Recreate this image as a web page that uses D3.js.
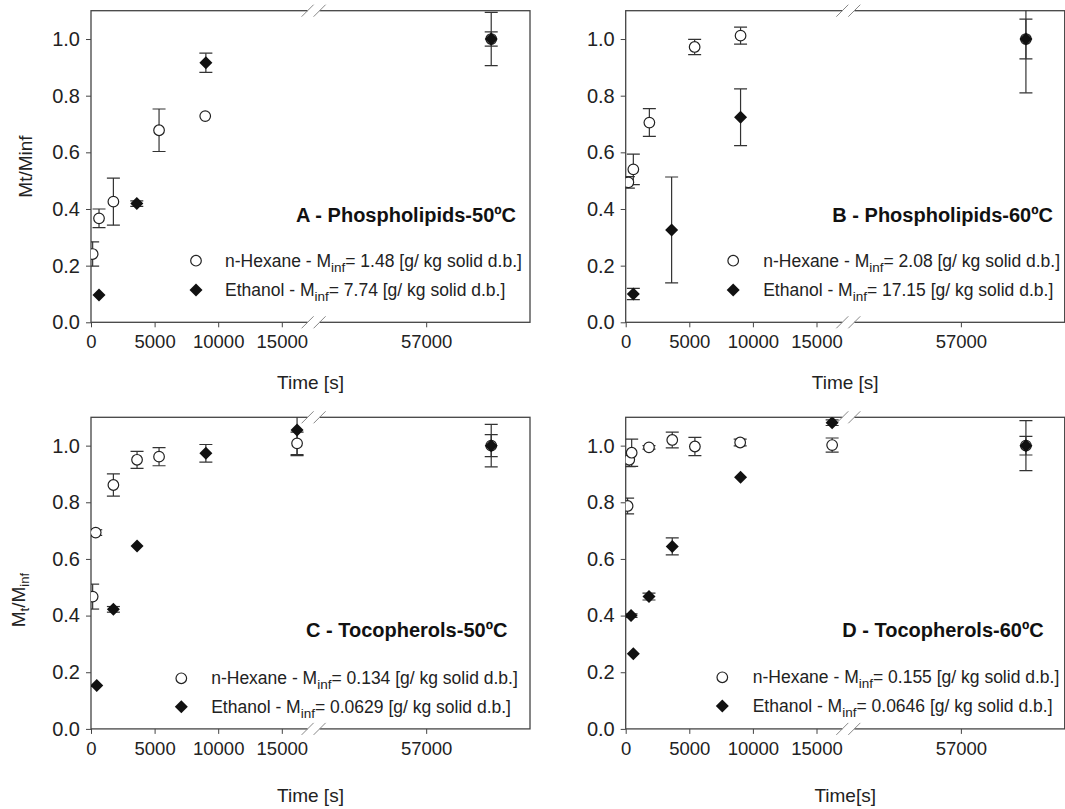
<!DOCTYPE html>
<html lang="en">
  <head>
    <meta charset="UTF-8" />
    <title>Extraction kinetics - Mt/Minf vs time</title>
    <script src="https://d3js.org/d3.v7.min.js"></script>
    <style>
      body {
        margin: 0;
        background: #fff;
        font-family: "Liberation Sans", Arial, sans-serif;
      }
      svg {
        display: block;
      }
      .tick text {
        fill: #222;
        font-family: "Liberation Sans", Arial, sans-serif;
      }
      .x-axis .tick text {
        font-size: 18.5px;
      }
      .y-axis .tick text {
        font-size: 20px;
      }
      .tick line {
        stroke: #444;
      }
      .axis-label {
        font-size: 19px;
        fill: #222;
      }
      .panel-title {
        font-size: 20px;
        font-weight: bold;
        fill: #111;
      }
      .legend-text {
        font-size: 17.5px;
        fill: #222;
      }
    </style>
  </head>
  <body>
    <svg width="1065" height="809"></svg>
    <script>
      // [time s, Mt/Minf, error]
      const hexaneA = [[130, 0.241, 0.043], [630, 0.367, 0.033], [1760, 0.426, 0.083], [5350, 0.678, 0.075], [8980, 0.728, 0], [62200, 1.0, 0.094]];
      const ethanolA = [[630, 0.096, 0], [3600, 0.419, 0.01], [9030, 0.916, 0.034], [62200, 1.0, 0.025]];

      const hexaneB = [[210, 0.494, 0.02], [600, 0.54, 0.054], [1860, 0.705, 0.049], [5420, 0.972, 0.027], [9030, 1.012, 0.03], [62200, 1.0, 0.07]];
      const ethanolB = [[600, 0.1, 0.02], [3610, 0.326, 0.187], [9030, 0.724, 0.1], [62200, 1.0, 0.19]];

      const hexaneC = [[130, 0.467, 0.044], [370, 0.693, 0.01], [1760, 0.861, 0.039], [3620, 0.95, 0.03], [5350, 0.961, 0.032], [16200, 1.008, 0.04], [62200, 1.0, 0.039]];
      const ethanolC = [[450, 0.153, 0], [1760, 0.422, 0.01], [3620, 0.646, 0], [9030, 0.973, 0.031], [16200, 1.055, 0.09], [62200, 1.0, 0.075]];

      const hexaneD = [[150, 0.787, 0.028], [280, 0.95, 0.024], [470, 0.975, 0.048], [1830, 0.994, 0.006], [3660, 1.02, 0.028], [5440, 0.997, 0.032], [9000, 1.011, 0.012], [16230, 1.002, 0.025], [62200, 1.0, 0.033]];
      const ethanolD = [[420, 0.4, 0.006], [600, 0.265, 0], [1830, 0.467, 0.012], [3660, 0.644, 0.03], [9030, 0.888, 0], [16230, 1.081, 0.01], [62200, 1.0, 0.088]];

      const panelTitles = ["A - Phospholipids-50ºC", "B - Phospholipids-60ºC", "C - Tocopherols-50ºC", "D - Tocopherols-60ºC"];
      const hexaneMinf = ["1.48", "2.08", "0.134", "0.155"];
      const ethanolMinf = ["7.74", "17.15", "0.0629", "0.0646"];
      const xLabels = ["Time [s]", "Time [s]", "Time [s]", "Time[s]"];

      const xTicks = [0, 5000, 10000, 15000, 57000];
      const yTicks = [0, 0.2, 0.4, 0.6, 0.8, 1.0];
      // broken time axis: first piece 0-17500, second 48000-65300
      const xDomain = [0, 17500, 48000, 65300];
      const yDomain = [0, 1.1];

      const svg = d3.select("svg");
      const width = 439,
        height = 311.6,
        breakX = 222.6;

      const x = d3.scaleLinear().domain(xDomain).range([0, breakX, breakX, width]);
      const y = d3.scaleLinear().domain(yDomain).range([height, 0]);

      // panel placement + where the title / legend sit inside each one
      const layout = [
        { left: 91, top: 10.7, title: [425, 211.3], legend: [105, 134, 250, 279.3], xlab: 378, ylab: [25.7, 0] },
        { left: 625.7, top: 10.7, title: [427.3, 211.3], legend: [107.5, 137.5, 250, 279.3], xlab: 378, ylab: null },
        { left: 91, top: 417.3, title: [416.4, 219.7], legend: [90.3, 120.2, 261, 289.4], xlab: 384.7, ylab: [19, 27] },
        { left: 625.7, top: 417.3, title: [418, 219.7], legend: [96.6, 127, 260, 288.7], xlab: 384.7, ylab: null },
      ];
      const hexane = [hexaneA, hexaneB, hexaneC, hexaneD];
      const ethanol = [ethanolA, ethanolB, ethanolC, ethanolD];

      const diamond = (s) => `M0,${-s}L${s},0L0,${s}L${-s},0Z`;

      layout.forEach((L, i) => {
        const g = svg.append("g").attr("transform", `translate(${L.left},${L.top})`);

        g.append("clipPath")
          .attr("id", "clip" + i)
          .append("rect")
          .attr("width", width)
          .attr("height", height);

        // axes
        const xAxis = g.append("g")
          .attr("class", "x-axis")
          .attr("transform", `translate(0,${height})`)
          .call(d3.axisBottom(x).tickValues(xTicks).tickFormat(d3.format("d")).tickSize(5).tickSizeOuter(0).tickPadding(8));
        xAxis.select(".domain").remove();
        xAxis.selectAll("text").attr("dy", "0.71em");

        const yAxis = g.append("g")
          .attr("class", "y-axis")
          .call(d3.axisLeft(y).tickValues(yTicks).tickFormat(d3.format(".1f")).tickSize(5).tickSizeOuter(0).tickPadding(6));
        yAxis.select(".domain").remove();

        // frame
        g.append("rect")
          .attr("width", width)
          .attr("height", height)
          .attr("fill", "none")
          .attr("stroke", "#444")
          .attr("stroke-width", 1.3);

        // axis break marks top and bottom
        [0, height].forEach((yy) => {
          g.append("rect")
            .attr("x", breakX - 6)
            .attr("y", yy - 2)
            .attr("width", 12)
            .attr("height", 4)
            .attr("fill", "#fff");
          [-6, 6].forEach((dx) => {
            g.append("line")
              .attr("x1", breakX + dx - 6)
              .attr("x2", breakX + dx + 6)
              .attr("y1", yy + 6)
              .attr("y2", yy - 6)
              .attr("stroke", "#888")
              .attr("stroke-width", 1);
          });
        });

        // error bars
        const pts = g.append("g").attr("clip-path", `url(#clip${i})`);
        const all = hexane[i].concat(ethanol[i]).filter((d) => d[2] > 0);
        all.forEach((d) => {
          const cx = x(d[0]),
            y1 = y(d[1] + d[2]),
            y2 = y(d[1] - d[2]);
          pts.append("line").attr("x1", cx).attr("x2", cx).attr("y1", y1).attr("y2", y2)
            .attr("stroke", "#333").attr("stroke-width", 1.2);
          [y1, y2].forEach((yy) => {
            pts.append("line").attr("x1", cx - 6.5).attr("x2", cx + 6.5).attr("y1", yy).attr("y2", yy)
              .attr("stroke", "#333").attr("stroke-width", 1.2);
          });
        });

        pts.selectAll(".hex")
          .data(hexane[i])
          .join("circle")
          .attr("class", "hex")
          .attr("cx", (d) => x(d[0]))
          .attr("cy", (d) => y(d[1]))
          .attr("r", 5.3)
          .attr("fill", "#fff")
          .attr("stroke", "#222")
          .attr("stroke-width", 1.2);

        pts.selectAll(".eth")
          .data(ethanol[i])
          .join("path")
          .attr("class", "eth")
          .attr("transform", (d) => `translate(${x(d[0])},${y(d[1])})`)
          .attr("d", diamond(6.5))
          .attr("fill", "#111");

        // title
        g.append("text")
          .attr("class", "panel-title")
          .attr("x", L.title[0])
          .attr("y", L.title[1])
          .attr("text-anchor", "end")
          .text(panelTitles[i]);

        // legend
        const lg = L.legend;
        g.append("circle").attr("cx", lg[0]).attr("cy", lg[2]).attr("r", 5.3)
          .attr("fill", "#fff").attr("stroke", "#222").attr("stroke-width", 1.2);
        g.append("path").attr("transform", `translate(${lg[0]},${lg[3]})`).attr("d", diamond(6.5)).attr("fill", "#111");

        const legendRow = (yy, name, val) => {
          const t = g.append("text").attr("class", "legend-text").attr("x", lg[1]).attr("y", yy + 6);
          t.append("tspan").text(name + " - M");
          t.append("tspan").attr("dy", 5).style("font-size", "13.5px").text("inf");
          t.append("tspan").attr("dy", -5).text("= " + val + " [g/ kg solid d.b.]");
        };
        legendRow(lg[2], "n-Hexane", hexaneMinf[i]);
        legendRow(lg[3], "Ethanol", ethanolMinf[i]);

        // x label
        g.append("text")
          .attr("class", "axis-label")
          .attr("x", width / 2)
          .attr("y", L.xlab)
          .attr("text-anchor", "middle")
          .text(xLabels[i]);

        // y label
        if (L.ylab) {
          const yl = g.append("text")
            .attr("class", "axis-label")
            .attr("transform", `translate(${L.ylab[0] - L.left + 6},${height / 2 + L.ylab[1]}) rotate(-90)`)
            .attr("text-anchor", "middle");
          if (i === 0) {
            yl.text("Mt/Minf");
          } else {
            yl.append("tspan").text("M");
            yl.append("tspan").attr("dy", 4).style("font-size", "13px").text("t");
            yl.append("tspan").attr("dy", -4).text("/M");
            yl.append("tspan").attr("dy", 4).style("font-size", "13px").text("inf");
          }
        }
      });
    </script>
  </body>
</html>
